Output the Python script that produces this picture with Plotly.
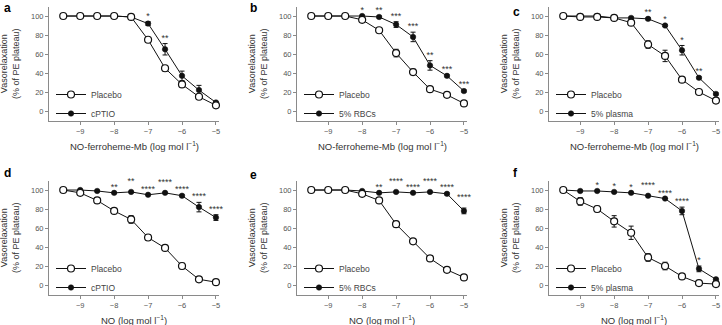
import plotly.graph_objects as go

# ---------------- data ----------------
conc = [-9.5, -9, -8.5, -8, -7.5, -7, -6.5, -6, -5.5, -5]
x_ticks = [-9, -8, -7, -6, -5]
y_ticks = [0, 20, 40, 60, 80, 100]

panel_letters = ["a", "b", "c", "d", "e", "f"]
x_titles = ["NO-ferroheme-Mb (log mol l<sup>−1</sup>)"] * 3 + ["NO (log mol l<sup>−1</sup>)"] * 3
treat_names = ["cPTIO", "5% RBCs", "5% plasma", "cPTIO", "5% RBCs", "5% plasma"]

placebo_a = [100, 100, 100, 100, 99, 75, 45, 28, 15, 6]
placebo_a_err = [0, 0, 0, 0, 0, 1, 3, 3, 2, 1]
treat_a = [100, 100, 100, 100, 99, 92, 65, 37, 22, 9]
treat_a_err = [0, 0, 0, 0, 0, 2, 6, 5, 5, 1]

placebo_b = [100, 100, 100, 96, 85, 61, 41, 23, 17, 8]
placebo_b_err = [0, 0, 0, 1, 2, 4, 3, 2, 1, 1]
treat_b = [100, 100, 100, 100, 99, 91, 78, 48, 37, 21]
treat_b_err = [0, 0, 0, 0, 1, 3, 5, 5, 1, 1]

placebo_c = [100, 99, 99, 98, 93, 70, 58, 33, 20, 11]
placebo_c_err = [0, 0, 0, 1, 1, 4, 6, 2, 1, 1]
treat_c = [100, 100, 100, 98, 98, 97, 90, 64, 35, 18]
treat_c_err = [0, 0, 0, 0, 1, 1, 1, 5, 1, 1]

placebo_d = [100, 97, 89, 78, 69, 50, 39, 20, 6, 3]
placebo_d_err = [0, 1, 3, 2, 4, 3, 2, 3, 1, 1]
treat_d = [100, 100, 99, 97, 98, 95, 97, 94, 82, 71]
treat_d_err = [0, 0, 0, 0, 0, 0, 0, 1, 5, 3]

placebo_e = [100, 100, 100, 96, 89, 64, 46, 28, 16, 8]
placebo_e_err = [0, 0, 0, 1, 1, 3, 2, 2, 1, 1]
treat_e = [100, 100, 100, 99, 97, 98, 97, 98, 96, 78]
treat_e_err = [0, 0, 0, 0, 0, 0, 0, 0, 1, 3]

placebo_f = [100, 88, 80, 67, 55, 29, 20, 9, 2, 1]
placebo_f_err = [0, 4, 3, 6, 7, 4, 4, 1, 1, 1]
treat_f = [100, 99, 99, 98, 97, 94, 91, 78, 17, 6]
treat_f_err = [0, 0, 0, 0, 0, 0, 0, 4, 3, 1]

# significance labels: concentration -> label ; raised = staggered higher
sig_a = {-7: "*", -6.5: "**"}
sig_b = {-8: "*", -7.5: "**", -7: "***", -6.5: "***", -6: "**", -5.5: "***", -5: "***"}
sig_c = {-7: "**", -6.5: "*", -6: "*", -5.5: "**"}
sig_d = {-8: "**", -7.5: "**", -7: "****", -6.5: "****", -6: "****", -5.5: "****", -5: "****"}
sig_e = {-8: "*", -7.5: "**", -7: "****", -6.5: "****", -6: "****", -5.5: "****", -5: "****"}
sig_f = {-8.5: "*", -8: "*", -7.5: "*", -7: "****", -6.5: "****", -6: "****", -5.5: "*"}
raised_a, raised_b, raised_c = [], [], []
raised_d = [-7.5, -6.5]
raised_e = [-8, -7, -6, -5]
raised_f = [-7]

panels = [
    (placebo_a, placebo_a_err, treat_a, treat_a_err, sig_a, raised_a),
    (placebo_b, placebo_b_err, treat_b, treat_b_err, sig_b, raised_b),
    (placebo_c, placebo_c_err, treat_c, treat_c_err, sig_c, raised_c),
    (placebo_d, placebo_d_err, treat_d, treat_d_err, sig_d, raised_d),
    (placebo_e, placebo_e_err, treat_e, treat_e_err, sig_e, raised_e),
    (placebo_f, placebo_f_err, treat_f, treat_f_err, sig_f, raised_f),
]

# ---------------- layout geometry (px) ----------------
W, H = 722, 325
col_px = [(49, 219), (297, 467), (549, 719)]
row_px = [(7, 121), (181, 295)]
letter_px = [(2, 8), (248, 8), (511, 12), (2, 173), (248, 175), (511, 173)]

FONT = "Liberation Sans, Arial, sans-serif"
AX_COL = "#8a8a8a"
TICK_COL = "#555555"
TITLE_COL = "#333333"


def px_x(v):
    return v / W


def px_y(v):
    return 1 - v / H


def clean_err(e):
    return [v if v > 0 else None for v in e]


fig = go.Figure()
annotations = []

for i, (pl, ple, tr, tre, sig, raised) in enumerate(panels):
    r, c = divmod(i, 3)
    sfx = "" if i == 0 else str(i + 1)
    xa, ya = "x" + sfx, "y" + sfx
    leg = "legend" + sfx

    # treatment (filled) first, placebo on top
    fig.add_trace(go.Scatter(
        x=conc, y=tr, mode="lines+markers", name=treat_names[i],
        xaxis=xa, yaxis=ya, legend=leg, legendrank=2,
        line=dict(color="#111111", width=1),
        marker=dict(symbol="circle", size=5.5, color="#111111",
                    line=dict(color="#111111", width=0.5)),
        error_y=dict(type="data", array=clean_err(tre), color="#111111",
                     thickness=1, width=2.5),
        cliponaxis=False,
    ))
    fig.add_trace(go.Scatter(
        x=conc, y=pl, mode="lines+markers", name="Placebo",
        xaxis=xa, yaxis=ya, legend=leg, legendrank=1,
        line=dict(color="#111111", width=1),
        marker=dict(symbol="circle", size=7, color="white",
                    line=dict(color="#111111", width=1.2)),
        error_y=dict(type="data", array=clean_err(ple), color="#111111",
                     thickness=1, width=2.5),
        cliponaxis=False,
    ))

    # significance stars
    sx, sy, st = [], [], []
    for xv, lab in sig.items():
        k = conc.index(xv)
        top = max(pl[k] + ple[k], tr[k] + tre[k])
        gap = 11 if xv in raised else 5.5
        sx.append(xv)
        sy.append(top + gap)
        st.append(lab)
    fig.add_trace(go.Scatter(
        x=sx, y=sy, text=st, mode="text", showlegend=False,
        xaxis=xa, yaxis=ya, textposition="middle center",
        textfont=dict(family=FONT, size=9, color="#333333"),
        cliponaxis=False, hoverinfo="skip",
    ))

    x0, x1 = col_px[c]
    y0, y1 = row_px[r]
    axis_common = dict(
        showline=True, linecolor=AX_COL, linewidth=1,
        ticks="outside", ticklen=3, tickcolor=AX_COL, tickwidth=1,
        showgrid=False, zeroline=False,
        tickfont=dict(family=FONT, size=7.5, color=TICK_COL),
    )
    fig.layout["xaxis" + sfx] = dict(
        domain=[px_x(x0), px_x(x1)], anchor=ya, range=[-9.92, -4.91],
        tickvals=x_ticks, **axis_common)
    fig.layout["yaxis" + sfx] = dict(
        domain=[px_y(y1), px_y(y0)], anchor=xa, range=[-10.5, 109.5],
        tickvals=y_ticks, **axis_common)

    fig.layout[leg] = dict(
        x=px_x(x0 + 2), y=px_y(y1 - 41), xanchor="left", yanchor="top",
        bgcolor="rgba(0,0,0,0)", borderwidth=0, tracegroupgap=0,
        itemwidth=30, font=dict(family=FONT, size=8.5, color="#444444"),
    )

    # x axis title
    annotations.append(dict(
        text=x_titles[i], xref="paper", yref="paper",
        x=px_x((x0 + x1) / 2), y=px_y(y1 + 25), xanchor="center", yanchor="middle",
        showarrow=False, font=dict(family=FONT, size=9.5, color=TITLE_COL)))
    # y axis title
    annotations.append(dict(
        text="Vasorelaxation<br>(% of PE plateau)", xref="paper", yref="paper",
        x=px_x(x0 - 39), y=px_y((y0 + y1) / 2), xanchor="center", yanchor="middle",
        textangle=-90, showarrow=False,
        font=dict(family=FONT, size=9, color=TITLE_COL)))
    # panel letter
    lx, ly = letter_px[i]
    annotations.append(dict(
        text="<b>%s</b>" % panel_letters[i], xref="paper", yref="paper",
        x=px_x(lx), y=px_y(ly), xanchor="left", yanchor="middle",
        showarrow=False, font=dict(family=FONT, size=12, color="#000000")))

fig.update_layout(
    width=W, height=H, margin=dict(l=0, r=0, t=0, b=0),
    paper_bgcolor="white", plot_bgcolor="white",
    annotations=annotations, showlegend=True,
    font=dict(family=FONT), hovermode=False,
)

fig.write_html(
    "out.html",
    config={"displayModeBar": False, "staticPlot": True},
    post_script="document.body.style.margin='0';document.body.style.overflow='hidden';",
)
